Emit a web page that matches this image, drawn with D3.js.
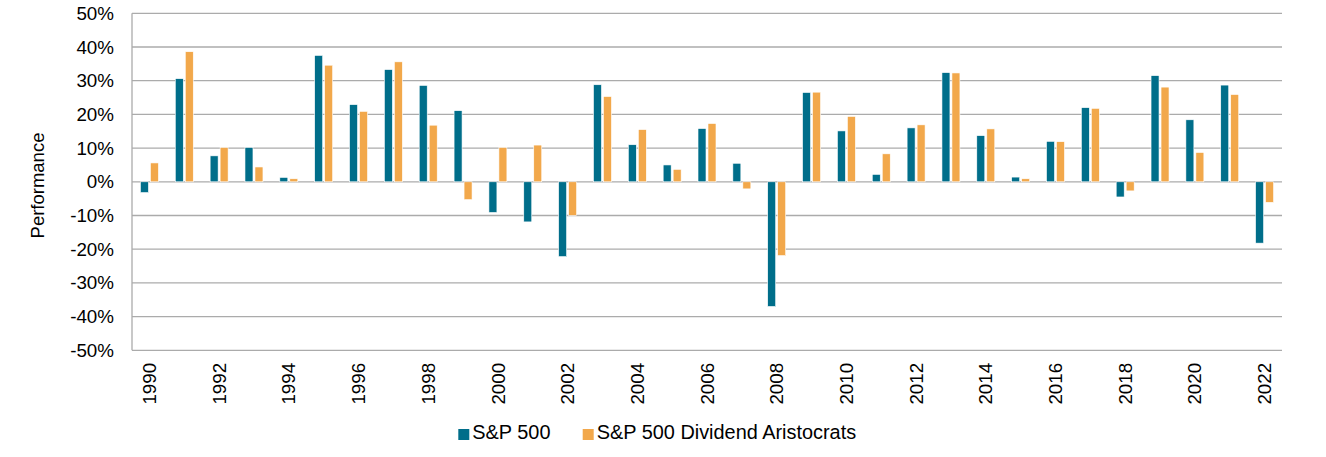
<!DOCTYPE html>
<html>
<head>
<meta charset="utf-8">
<script src="https://cdn.jsdelivr.net/npm/d3@7"></script>
<style>
  html, body { margin: 0; padding: 0; background: #fff; }
  svg text { font-family: "Liberation Sans", Arial, sans-serif; fill: #000; }
</style>
</head>
<body>
<svg id="chart" width="1326" height="457"></svg>
<script>
const years = ["1990","1991","1992","1993","1994","1995","1996","1997","1998","1999","2000","2001","2002","2003","2004","2005","2006","2007","2008","2009","2010","2011","2012","2013","2014","2015","2016","2017","2018","2019","2020","2021","2022"];
const sp500 = [-3.2,30.6,7.7,10.2,1.3,37.5,22.9,33.3,28.6,21.1,-9.1,-11.9,-22.2,28.8,11.0,5.0,15.8,5.5,-37.0,26.5,15.1,2.2,16.0,32.4,13.7,1.4,12.0,22.0,-4.5,31.5,18.4,28.7,-18.2];
const aristocrats = [5.6,38.6,10.2,4.4,0.9,34.6,20.9,35.6,16.8,-5.3,10.2,10.9,-10.0,25.3,15.5,3.7,17.3,-2.1,-21.9,26.6,19.4,8.3,16.9,32.3,15.7,0.9,11.9,21.8,-2.7,28.1,8.7,25.9,-6.1];
const seriesNames = ["S&P 500", "S&P 500 Dividend Aristocrats"];
const seriesColors = ["#006E8A", "#F2A84B"];
const yTicks = [-50,-40,-30,-20,-10,0,10,20,30,40,50];
const xLabelYears = years.filter((d, i) => i % 2 === 0);

const svg = d3.select("#chart");
const plotLeft = 132, plotRight = 1282, plotTop = 13.3, plotBottom = 350.3;

const x0 = d3.scaleBand().domain(years).range([plotLeft, plotRight]).paddingInner(0.484).paddingOuter(0.242);
const x1 = d3.scaleBand().domain([0, 1]).range([0, x0.bandwidth()]).paddingInner(0.2);
const y = d3.scaleLinear().domain([-50, 50]).range([plotBottom, plotTop]);

// gridlines
svg.append("g")
  .selectAll("line").data(yTicks).join("line")
  .attr("x1", plotLeft).attr("x2", plotRight)
  .attr("y1", d => y(d)).attr("y2", d => y(d))
  .attr("stroke", "#ABABAB").attr("stroke-width", 1.3);

// left axis line
svg.append("line")
  .attr("x1", plotLeft).attr("x2", plotLeft).attr("y1", plotTop).attr("y2", plotBottom)
  .attr("stroke", "#ABABAB").attr("stroke-width", 1.3);

// y axis
const yAxis = d3.axisLeft(y).tickValues(yTicks).tickFormat(d => d + "%").tickSize(0).tickPadding(18);
const gy = svg.append("g").attr("transform", `translate(${plotLeft},0)`).call(yAxis);
gy.select(".domain").remove();
gy.selectAll("text").style("font-size", "18.8px").attr("font-family", null);

// bars
const data = years.map((yr, i) => ({ yr, vals: [sp500[i], aristocrats[i]] }));
const groups = svg.append("g").selectAll("g").data(data).join("g")
  .attr("transform", d => `translate(${x0(d.yr)},0)`);
groups.selectAll("rect").data(d => d.vals.map((v, k) => ({ v, k }))).join("rect")
  .attr("x", d => x1(d.k))
  .attr("width", x1.bandwidth())
  .attr("y", d => y(Math.max(0, d.v)))
  .attr("height", d => Math.abs(y(d.v) - y(0)))
  .attr("fill", d => seriesColors[d.k])
  .attr("stroke", "#fff").attr("stroke-width", 0.6);

// x axis labels (every other year)
const xAxis = d3.axisBottom(x0).tickValues(xLabelYears).tickSize(0).tickPadding(0);
const gx = svg.append("g").attr("transform", `translate(0,${plotBottom})`).call(xAxis);
gx.select(".domain").remove();
gx.selectAll("text")
  .attr("font-family", null)
  .style("font-size", "18.8px")
  .attr("text-anchor", "end")
  .attr("dy", "0.35em")
  .attr("transform", "translate(0,12.5) rotate(-90)")
  .attr("x", 0).attr("y", 0);

// y axis title
svg.append("text")
  .attr("transform", "translate(44,185.5) rotate(-90)")
  .attr("text-anchor", "middle")
  .style("font-size", "18.5px")
  .text("Performance");

// legend
const legendX = [458.3, 582.7];
const lg = svg.append("g").selectAll("g").data(seriesNames).join("g")
  .attr("transform", (d, i) => `translate(${legendX[i]},0)`);
lg.append("rect").attr("x", 0).attr("y", 429).attr("width", 11).attr("height", 11)
  .attr("fill", (d, i) => seriesColors[i]);
lg.append("text").attr("x", 14).attr("y", 439).style("font-size", "19.9px").text(d => d);
</script>
</body>
</html>
